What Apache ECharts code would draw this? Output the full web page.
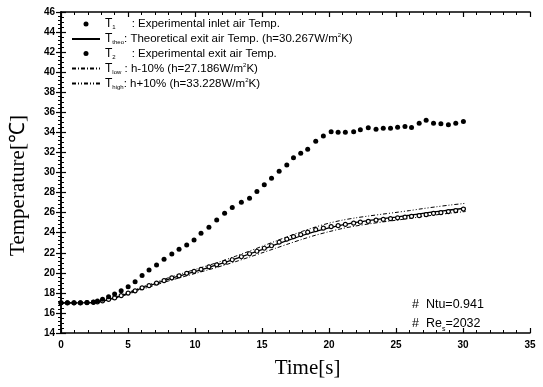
<!DOCTYPE html>
<html>
<head>
<meta charset="utf-8">
<script src="https://cdn.jsdelivr.net/npm/echarts@6/dist/echarts.min.js"></script>
<style>
  html, body { margin: 0; padding: 0; background: #fff; }
  #main { width: 543px; height: 387px; }
</style>
</head>
<body>
<div id="main"></div>
<script>
// measured inlet air (T1): [time s, temp C]
const inletData = [
  [0, 17.02], [0.48, 17.02], [0.97, 17.02], [1.45, 17.02], [1.94, 17.04], [2.42, 17.08], [2.72, 17.2],
  [3.10, 17.36], [3.55, 17.62], [4.00, 17.89], [4.49, 18.22], [5.01, 18.62], [5.53, 19.12],
  [6.05, 19.72], [6.57, 20.29], [7.13, 20.78], [7.69, 21.35], [8.27, 21.88], [8.81, 22.35],
  [9.38, 22.78], [9.93, 23.28], [10.45, 23.95], [11.04, 24.55], [11.62, 25.27], [12.21, 25.94],
  [12.78, 26.50], [13.46, 27.04], [14.07, 27.44], [14.62, 28.10], [15.17, 28.77], [15.71, 29.43],
  [16.28, 30.13], [16.85, 30.76], [17.35, 31.48], [17.89, 31.92], [18.41, 32.32], [19.01, 33.12],
  [19.58, 33.65], [20.16, 34.05], [20.68, 34.02], [21.22, 34.02], [21.84, 34.05], [22.34, 34.25],
  [22.93, 34.45], [23.51, 34.32], [24.05, 34.42], [24.59, 34.42], [25.12, 34.52], [25.67, 34.58],
  [26.16, 34.48], [26.73, 34.92], [27.25, 35.22], [27.80, 34.92], [28.35, 34.85], [28.91, 34.75],
  [29.46, 34.92], [30.03, 35.08]
]

// measured exit air (T2)
const exitData = [
  [0, 17.0], [0.48, 17.0], [0.97, 17.0], [1.45, 17.0], [1.94, 17.02], [2.42, 17.05], [2.72, 17.1],
  [3.10, 17.2], [3.55, 17.35], [4.00, 17.5], [4.49, 17.72], [5.01, 17.98], [5.53, 18.2],
  [6.05, 18.5], [6.57, 18.72], [7.13, 18.98], [7.69, 19.22], [8.27, 19.5], [8.81, 19.7],
  [9.38, 19.95], [9.93, 20.15], [10.45, 20.35], [11.04, 20.6], [11.62, 20.8], [12.21, 21.05],
  [12.78, 21.3], [13.46, 21.6], [14.07, 21.9], [14.62, 22.15], [15.17, 22.45], [15.71, 22.7],
  [16.28, 23.05], [16.85, 23.35], [17.35, 23.6], [17.89, 23.8], [18.41, 24.05], [19.01, 24.3],
  [19.58, 24.45], [20.16, 24.6], [20.68, 24.7], [21.22, 24.82], [21.84, 24.95], [22.34, 25.05],
  [22.93, 25.12], [23.51, 25.25], [24.05, 25.32], [24.59, 25.4], [25.12, 25.48], [25.67, 25.55],
  [26.16, 25.62], [26.73, 25.7], [27.25, 25.8], [27.80, 25.92], [28.35, 26.0], [28.91, 26.1],
  [29.46, 26.2], [30.03, 26.35]
]

// theoretical exit air, h = 30.267
const theoData = [
  [0, 17.0], [1, 17.0], [2, 17.02], [2.5, 17.06], [3, 17.15], [3.5, 17.3], [4, 17.5], [5, 17.96],
  [6, 18.45], [7, 18.9], [8, 19.35], [9, 19.75], [10, 20.13], [11, 20.52], [12, 20.93], [13, 21.38],
  [14, 21.85], [15, 22.32], [16, 22.8], [17, 23.27], [18, 23.72], [19, 24.12], [20, 24.47],
  [21, 24.77], [22, 25.02], [23, 25.22], [24, 25.4], [25, 25.56], [26, 25.74], [27, 25.93],
  [28, 26.1], [29, 26.26], [30, 26.41], [30.2, 26.44]
]

// h - 10%
const lowData = [
  [0, 17.0], [2, 17.01], [3, 17.13], [4, 17.44], [5, 17.87], [6, 18.33], [7, 18.76], [8, 19.18],
  [9, 19.56], [10, 19.93], [11, 20.3], [12, 20.69], [13, 21.1], [14, 21.54], [15, 21.99],
  [16, 22.44], [17, 22.9], [18, 23.34], [19, 23.75], [20, 24.1], [21, 24.42], [22, 24.67],
  [23, 24.88], [24, 25.07], [25, 25.24], [26, 25.42], [27, 25.61], [28, 25.78], [29, 25.94],
  [30, 26.08], [30.2, 26.11]
]

// h + 10%
const highData = [
  [0, 17.0], [2, 17.02], [3, 17.17], [4, 17.56], [5, 18.04], [6, 18.55], [7, 19.02], [8, 19.5],
  [9, 19.92], [10, 20.33], [11, 20.74], [12, 21.17], [13, 21.64], [14, 22.13], [15, 22.64],
  [16, 23.15], [17, 23.65], [18, 24.13], [19, 24.57], [20, 24.95], [21, 25.25], [22, 25.48],
  [23, 25.67], [24, 25.85], [25, 26.02], [26, 26.2], [27, 26.4], [28, 26.58], [29, 26.75],
  [30, 26.9], [30.2, 26.93]
]

const legendText = {
  'T1': '{t|T}{s|1}     : Experimental inlet air Temp.',
  'Ttheo': '{t|T}{s|theo}: Theoretical exit air Temp. (h=30.267W/m{p|2}K)',
  'T2': '{t|T}{s|2}     : Experimental exit air Temp.',
  'Tlow': '{t|T}{s|low} : h-10% (h=27.186W/m{p|2}K)',
  'Thigh': '{t|T}{s|high}: h+10% (h=33.228W/m{p|2}K)'
}

const FONT = 'Liberation Sans'
const chart = echarts.init(document.getElementById('main'))

const tickAxis = {
  axisLine: { show: true, lineStyle: { color: '#000', width: 1.5 } },
  axisTick: { show: true, inside: true, length: 5, lineStyle: { color: '#000', width: 1.2 } },
  minorTick: { show: true, splitNumber: 5, length: 3, lineStyle: { color: '#000' } },
  splitLine: { show: false }
}

const noSymbol = { opacity: 0 }

const option = {
  animation: false,
  backgroundColor: '#fff',
  grid: { left: 60, right: 13, top: 12, bottom: 54 },
  legend: {
    orient: 'vertical',
    left: 66,
    top: 13,
    itemGap: 2,
    itemWidth: 28,
    itemHeight: 5,
    data: [
      { name: 'T1' },
      { name: 'Ttheo', itemStyle: noSymbol },
      { name: 'T2', itemStyle: { color: '#000', borderWidth: 0 } },
      { name: 'Tlow', itemStyle: noSymbol },
      { name: 'Thigh', itemStyle: noSymbol }
    ],
    formatter: name => legendText[name],
    textStyle: {
      color: '#000',
      fontFamily: FONT,
      fontSize: 11.5,
      rich: {
        t: { fontSize: 12, fontFamily: FONT, color: '#000' },
        s: { fontSize: 6, fontFamily: FONT, color: '#000', verticalAlign: 'bottom', padding: [7, 0, 0, 0] },
        p: { fontSize: 6, fontFamily: FONT, color: '#000', verticalAlign: 'top', padding: [0, 0, 6, 0] }
      }
    }
  },
  xAxis: [{
    type: 'value', min: 0, max: 35, interval: 5,
    name: 'Time[s]', nameLocation: 'middle', nameGap: 25,
    nameTextStyle: { fontFamily: 'Liberation Serif', fontSize: 21, color: '#000', padding: [0, 0, 0, 24] },
    axisLabel: { color: '#000', fontFamily: FONT, fontWeight: 'bold', fontSize: 10, margin: 7 },
    ...tickAxis
  }, {
    type: 'value', min: 0, max: 35, interval: 5, position: 'top',
    axisLabel: { show: false }, ...tickAxis
  }],
  yAxis: [{
    type: 'value', min: 14, max: 46, interval: 2,
    name: 'Temperature[℃]', nameLocation: 'middle', nameGap: 32,
    nameTextStyle: { fontFamily: 'Liberation Serif', fontSize: 21, color: '#000', padding: [0, 26, 0, 0] },
    axisLabel: { color: '#000', fontFamily: FONT, fontWeight: 'bold', fontSize: 10, margin: 6 },
    ...tickAxis,
    minorTick: { show: true, splitNumber: 4, length: 3, lineStyle: { color: '#000' } }
  }, {
    type: 'value', min: 14, max: 46, interval: 2, position: 'right',
    axisLabel: { show: false }, ...tickAxis
  }],
  graphic: [{
    type: 'text', left: 412, top: 295,
    style: {
      text: '#  Ntu=0.941\n#  Re{s|s}=2032',
      fontFamily: FONT, fontSize: 12.5, fill: '#000', lineHeight: 19,
      rich: { s: { fontSize: 7, fontFamily: FONT, fill: '#000', verticalAlign: 'bottom', padding: [7, 0, 0, 0] } }
    }
  }],
  series: [
    {
      name: 'T1', type: 'scatter', data: inletData, symbol: 'circle', symbolSize: 5,
      itemStyle: { color: '#000', opacity: 1 }, z: 5
    },
    {
      name: 'Ttheo', type: 'line', data: theoData, symbol: 'none', smooth: 0.3,
      lineStyle: { color: '#000', width: 1.3, type: 'solid' }, itemStyle: { color: '#000' }
    },
    {
      name: 'T2', type: 'scatter', data: exitData, symbol: 'circle', symbolSize: 4,
      itemStyle: { color: '#fff', borderColor: '#000', borderWidth: 1.2, opacity: 1 }, z: 4
    },
    {
      name: 'Tlow', type: 'line', data: lowData, symbol: 'none', smooth: 0.3,
      lineStyle: { color: '#000', width: 1, type: [4, 2, 1, 2] }, itemStyle: { color: '#000' }
    },
    {
      name: 'Thigh', type: 'line', data: highData, symbol: 'none', smooth: 0.3,
      lineStyle: { color: '#000', width: 1, type: [4, 2, 1, 2, 1, 2] }, itemStyle: { color: '#000' }
    }
  ]
}

chart.setOption(option)
</script>
</body>
</html>
